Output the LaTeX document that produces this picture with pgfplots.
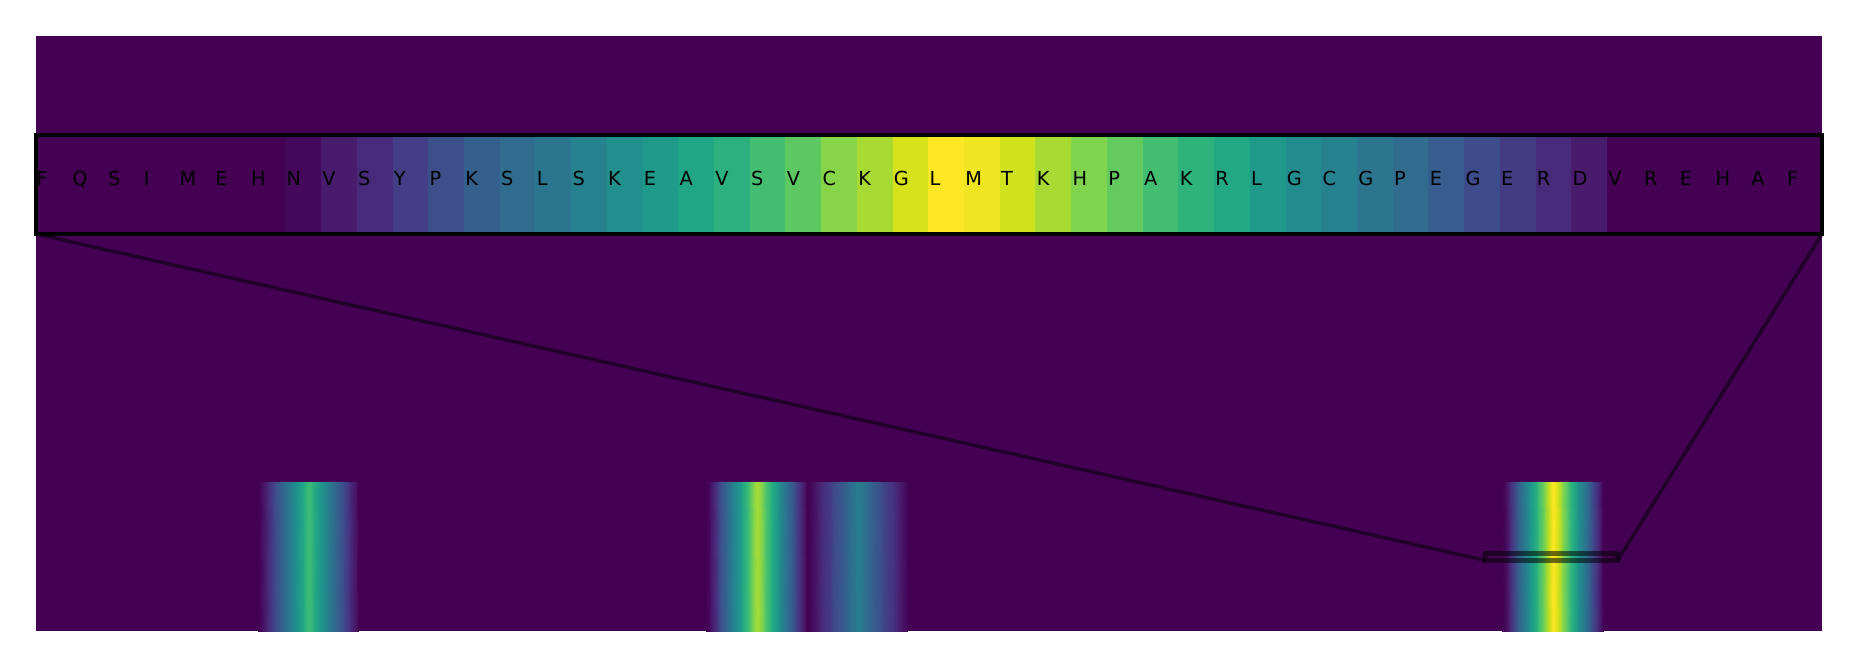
\documentclass[border=0pt]{standalone}
\usepackage{pgfplots}
\pgfplotsset{compat=1.18}
\usepackage{pgfplotstable}
\usepackage{fontspec}
\newfontfamily\dv{DejaVu Sans}
\usetikzlibrary{calc}

\definecolor{vbg}{RGB}{68,1,84}

% residue letters of the zoomed window
\pgfplotstableread{
x letter
0 F
1 Q
2 S
3 I
4 M
5 E
6 H
7 N
8 V
9 S
10 Y
11 P
12 K
13 S
14 L
15 S
16 K
17 E
18 A
19 V
20 S
21 V
22 C
23 K
24 G
25 L
26 M
27 T
28 K
29 H
30 P
31 A
32 K
33 R
34 L
35 G
36 C
37 G
38 P
39 E
40 G
41 E
42 R
43 D
44 V
45 R
46 E
47 H
48 A
49 F
}\letters

\begin{document}
\begin{tikzpicture}
\begin{axis}[
    name=main,
    at={(0,0)}, anchor=south west,
    scale only axis, width=17.86cm, height=5.95cm,
    xmin=0, xmax=673, ymin=0, ymax=1,
    axis line style={draw=none}, ticks=none,
    axis background/.style={fill=vbg},
    colormap/viridis, point meta min=0, point meta max=1,
]
% band 1
\addplot[surf, shader=interp, mesh/ordering=y varies, mesh/rows=2, mesh/cols=39, point meta=explicit] coordinates {
(83.5,0)[0] (83.5,0.25)[0]
(84.5,0)[0.01] (84.5,0.25)[0.01]
(85.5,0)[0.05] (85.5,0.25)[0.05]
(86.5,0)[0.08] (86.5,0.25)[0.08]
(87.5,0)[0.12] (87.5,0.25)[0.12]
(88.5,0)[0.16] (88.5,0.25)[0.16]
(89.5,0)[0.20] (89.5,0.25)[0.20]
(90.5,0)[0.24] (90.5,0.25)[0.24]
(91.5,0)[0.27] (91.5,0.25)[0.27]
(92.5,0)[0.30] (92.5,0.25)[0.30]
(93.5,0)[0.34] (93.5,0.25)[0.34]
(94.5,0)[0.37] (94.5,0.25)[0.37]
(95.5,0)[0.40] (95.5,0.25)[0.40]
(96.5,0)[0.44] (96.5,0.25)[0.44]
(97.5,0)[0.48] (97.5,0.25)[0.48]
(98.5,0)[0.51] (98.5,0.25)[0.51]
(99.5,0)[0.56] (99.5,0.25)[0.56]
(100.5,0)[0.59] (100.5,0.25)[0.59]
(101.5,0)[0.64] (101.5,0.25)[0.64]
(102.5,0)[0.68] (102.5,0.25)[0.68]
(103.5,0)[0.67] (103.5,0.25)[0.67]
(104.5,0)[0.63] (104.5,0.25)[0.63]
(105.5,0)[0.59] (105.5,0.25)[0.59]
(106.5,0)[0.55] (106.5,0.25)[0.55]
(107.5,0)[0.52] (107.5,0.25)[0.52]
(108.5,0)[0.48] (108.5,0.25)[0.48]
(109.5,0)[0.44] (109.5,0.25)[0.44]
(110.5,0)[0.41] (110.5,0.25)[0.41]
(111.5,0)[0.37] (111.5,0.25)[0.37]
(112.5,0)[0.33] (112.5,0.25)[0.33]
(113.5,0)[0.30] (113.5,0.25)[0.30]
(114.5,0)[0.27] (114.5,0.25)[0.27]
(115.5,0)[0.24] (115.5,0.25)[0.24]
(116.5,0)[0.20] (116.5,0.25)[0.20]
(117.5,0)[0.16] (117.5,0.25)[0.16]
(118.5,0)[0.12] (118.5,0.25)[0.12]
(119.5,0)[0.08] (119.5,0.25)[0.08]
(120.5,0)[0.05] (120.5,0.25)[0.05]
(121.5,0)[0] (121.5,0.25)[0]
};
% band 2
\addplot[surf, shader=interp, mesh/ordering=y varies, mesh/rows=2, mesh/cols=39, point meta=explicit] coordinates {
(252.5,0)[0] (252.5,0.25)[0]
(253.5,0)[0.02] (253.5,0.25)[0.02]
(254.5,0)[0.06] (254.5,0.25)[0.06]
(255.5,0)[0.10] (255.5,0.25)[0.10]
(256.5,0)[0.16] (256.5,0.25)[0.16]
(257.5,0)[0.21] (257.5,0.25)[0.21]
(258.5,0)[0.26] (258.5,0.25)[0.26]
(259.5,0)[0.30] (259.5,0.25)[0.30]
(260.5,0)[0.34] (260.5,0.25)[0.34]
(261.5,0)[0.38] (261.5,0.25)[0.38]
(262.5,0)[0.44] (262.5,0.25)[0.44]
(263.5,0)[0.47] (263.5,0.25)[0.47]
(264.5,0)[0.51] (264.5,0.25)[0.51]
(265.5,0)[0.56] (265.5,0.25)[0.56]
(266.5,0)[0.61] (266.5,0.25)[0.61]
(267.5,0)[0.65] (267.5,0.25)[0.65]
(268.5,0)[0.71] (268.5,0.25)[0.71]
(269.5,0)[0.76] (269.5,0.25)[0.76]
(270.5,0)[0.82] (270.5,0.25)[0.82]
(271.5,0)[0.87] (271.5,0.25)[0.87]
(272.5,0)[0.85] (272.5,0.25)[0.85]
(273.5,0)[0.81] (273.5,0.25)[0.81]
(274.5,0)[0.76] (274.5,0.25)[0.76]
(275.5,0)[0.70] (275.5,0.25)[0.70]
(276.5,0)[0.66] (276.5,0.25)[0.66]
(277.5,0)[0.61] (277.5,0.25)[0.61]
(278.5,0)[0.57] (278.5,0.25)[0.57]
(279.5,0)[0.52] (279.5,0.25)[0.52]
(280.5,0)[0.47] (280.5,0.25)[0.47]
(281.5,0)[0.42] (281.5,0.25)[0.42]
(282.5,0)[0.38] (282.5,0.25)[0.38]
(283.5,0)[0.34] (283.5,0.25)[0.34]
(284.5,0)[0.30] (284.5,0.25)[0.30]
(285.5,0)[0.25] (285.5,0.25)[0.25]
(286.5,0)[0.20] (286.5,0.25)[0.20]
(287.5,0)[0.15] (287.5,0.25)[0.15]
(288.5,0)[0.10] (288.5,0.25)[0.10]
(289.5,0)[0.06] (289.5,0.25)[0.06]
(290.5,0)[0] (290.5,0.25)[0]
};
% band 3
\addplot[surf, shader=interp, mesh/ordering=y varies, mesh/rows=2, mesh/cols=39, point meta=explicit] coordinates {
(290.5,0)[0] (290.5,0.25)[0]
(291.5,0)[0.01] (291.5,0.25)[0.01]
(292.5,0)[0.03] (292.5,0.25)[0.03]
(293.5,0)[0.05] (293.5,0.25)[0.05]
(294.5,0)[0.08] (294.5,0.25)[0.08]
(295.5,0)[0.10] (295.5,0.25)[0.10]
(296.5,0)[0.13] (296.5,0.25)[0.13]
(297.5,0)[0.15] (297.5,0.25)[0.15]
(298.5,0)[0.16] (298.5,0.25)[0.16]
(299.5,0)[0.18] (299.5,0.25)[0.18]
(300.5,0)[0.21] (300.5,0.25)[0.21]
(301.5,0)[0.23] (301.5,0.25)[0.23]
(302.5,0)[0.25] (302.5,0.25)[0.25]
(303.5,0)[0.27] (303.5,0.25)[0.27]
(304.5,0)[0.29] (304.5,0.25)[0.29]
(305.5,0)[0.32] (305.5,0.25)[0.32]
(306.5,0)[0.34] (306.5,0.25)[0.34]
(307.5,0)[0.37] (307.5,0.25)[0.37]
(308.5,0)[0.39] (308.5,0.25)[0.39]
(309.5,0)[0.42] (309.5,0.25)[0.42]
(310.5,0)[0.41] (310.5,0.25)[0.41]
(311.5,0)[0.39] (311.5,0.25)[0.39]
(312.5,0)[0.37] (312.5,0.25)[0.37]
(313.5,0)[0.34] (313.5,0.25)[0.34]
(314.5,0)[0.32] (314.5,0.25)[0.32]
(315.5,0)[0.29] (315.5,0.25)[0.29]
(316.5,0)[0.27] (316.5,0.25)[0.27]
(317.5,0)[0.25] (317.5,0.25)[0.25]
(318.5,0)[0.23] (318.5,0.25)[0.23]
(319.5,0)[0.20] (319.5,0.25)[0.20]
(320.5,0)[0.18] (320.5,0.25)[0.18]
(321.5,0)[0.16] (321.5,0.25)[0.16]
(322.5,0)[0.15] (322.5,0.25)[0.15]
(323.5,0)[0.12] (323.5,0.25)[0.12]
(324.5,0)[0.10] (324.5,0.25)[0.10]
(325.5,0)[0.07] (325.5,0.25)[0.07]
(326.5,0)[0.05] (326.5,0.25)[0.05]
(327.5,0)[0.03] (327.5,0.25)[0.03]
(328.5,0)[0] (328.5,0.25)[0]
};
% band 4 (the zoomed window)
\addplot[surf, shader=interp, mesh/ordering=y varies, mesh/rows=2, mesh/cols=39, point meta=explicit] coordinates {
(552.5,0)[0] (552.5,0.25)[0]
(553.5,0)[0.02] (553.5,0.25)[0.02]
(554.5,0)[0.07] (554.5,0.25)[0.07]
(555.5,0)[0.12] (555.5,0.25)[0.12]
(556.5,0)[0.18] (556.5,0.25)[0.18]
(557.5,0)[0.24] (557.5,0.25)[0.24]
(558.5,0)[0.30] (558.5,0.25)[0.30]
(559.5,0)[0.35] (559.5,0.25)[0.35]
(560.5,0)[0.39] (560.5,0.25)[0.39]
(561.5,0)[0.44] (561.5,0.25)[0.44]
(562.5,0)[0.50] (562.5,0.25)[0.50]
(563.5,0)[0.54] (563.5,0.25)[0.54]
(564.5,0)[0.59] (564.5,0.25)[0.59]
(565.5,0)[0.64] (565.5,0.25)[0.64]
(566.5,0)[0.70] (566.5,0.25)[0.70]
(567.5,0)[0.75] (567.5,0.25)[0.75]
(568.5,0)[0.82] (568.5,0.25)[0.82]
(569.5,0)[0.87] (569.5,0.25)[0.87]
(570.5,0)[0.94] (570.5,0.25)[0.94]
(571.5,0)[1.00] (571.5,0.25)[1.00]
(572.5,0)[0.98] (572.5,0.25)[0.98]
(573.5,0)[0.93] (573.5,0.25)[0.93]
(574.5,0)[0.87] (574.5,0.25)[0.87]
(575.5,0)[0.81] (575.5,0.25)[0.81]
(576.5,0)[0.76] (576.5,0.25)[0.76]
(577.5,0)[0.70] (577.5,0.25)[0.70]
(578.5,0)[0.65] (578.5,0.25)[0.65]
(579.5,0)[0.60] (579.5,0.25)[0.60]
(580.5,0)[0.54] (580.5,0.25)[0.54]
(581.5,0)[0.48] (581.5,0.25)[0.48]
(582.5,0)[0.44] (582.5,0.25)[0.44]
(583.5,0)[0.39] (583.5,0.25)[0.39]
(584.5,0)[0.35] (584.5,0.25)[0.35]
(585.5,0)[0.29] (585.5,0.25)[0.29]
(586.5,0)[0.23] (586.5,0.25)[0.23]
(587.5,0)[0.17] (587.5,0.25)[0.17]
(588.5,0)[0.12] (588.5,0.25)[0.12]
(589.5,0)[0.07] (589.5,0.25)[0.07]
(590.5,0)[0] (590.5,0.25)[0]
};
\draw[black, opacity=0.55, line width=0.047cm] (axis cs:546,0.1188) rectangle (axis cs:596,0.1306);
\coordinate (rbl) at (axis cs:546,0.1188);
\coordinate (rbr) at (axis cs:596,0.1188);
\end{axis}

\begin{axis}[
    name=inset,
    at={($(main.north west)+(0,-0.99cm)$)}, anchor=north west,
    scale only axis, width=17.86cm, height=0.99cm,
    xmin=0, xmax=50, ymin=0, ymax=1,
    ticks=none, axis on top,
    axis line style={black, line width=0.035cm},
    colormap/viridis, point meta min=0, point meta max=1,
]
\addplot[surf, shader=flat corner, mesh/ordering=y varies, mesh/rows=2, mesh/cols=51, point meta=explicit] coordinates {
(0,0)[0] (0,1)[0]
(1,0)[0] (1,1)[0]
(2,0)[0] (2,1)[0]
(3,0)[0] (3,1)[0]
(4,0)[0] (4,1)[0]
(5,0)[0] (5,1)[0]
(6,0)[0] (6,1)[0]
(7,0)[0.02] (7,1)[0.02]
(8,0)[0.07] (8,1)[0.07]
(9,0)[0.12] (9,1)[0.12]
(10,0)[0.18] (10,1)[0.18]
(11,0)[0.24] (11,1)[0.24]
(12,0)[0.30] (12,1)[0.30]
(13,0)[0.35] (13,1)[0.35]
(14,0)[0.39] (14,1)[0.39]
(15,0)[0.44] (15,1)[0.44]
(16,0)[0.50] (16,1)[0.50]
(17,0)[0.54] (17,1)[0.54]
(18,0)[0.59] (18,1)[0.59]
(19,0)[0.64] (19,1)[0.64]
(20,0)[0.70] (20,1)[0.70]
(21,0)[0.75] (21,1)[0.75]
(22,0)[0.82] (22,1)[0.82]
(23,0)[0.87] (23,1)[0.87]
(24,0)[0.94] (24,1)[0.94]
(25,0)[1.00] (25,1)[1.00]
(26,0)[0.98] (26,1)[0.98]
(27,0)[0.93] (27,1)[0.93]
(28,0)[0.87] (28,1)[0.87]
(29,0)[0.81] (29,1)[0.81]
(30,0)[0.76] (30,1)[0.76]
(31,0)[0.70] (31,1)[0.70]
(32,0)[0.65] (32,1)[0.65]
(33,0)[0.60] (33,1)[0.60]
(34,0)[0.54] (34,1)[0.54]
(35,0)[0.48] (35,1)[0.48]
(36,0)[0.44] (36,1)[0.44]
(37,0)[0.39] (37,1)[0.39]
(38,0)[0.35] (38,1)[0.35]
(39,0)[0.29] (39,1)[0.29]
(40,0)[0.23] (40,1)[0.23]
(41,0)[0.17] (41,1)[0.17]
(42,0)[0.12] (42,1)[0.12]
(43,0)[0.07] (43,1)[0.07]
(44,0)[0] (44,1)[0]
(45,0)[0] (45,1)[0]
(46,0)[0] (46,1)[0]
(47,0)[0] (47,1)[0]
(48,0)[0] (48,1)[0]
(49,0)[0] (49,1)[0]
(50,0)[0] (50,1)[0]
};
\addplot[only marks, mark=none, nodes near coords, point meta=explicit symbolic,
    every node near coord/.style={anchor=base west, inner sep=0pt, text=black, font=\dv\fontsize{5.5}{6}\selectfont}]
    table[x=x, y expr=0.49, meta=letter] {\letters};
\end{axis}

\draw[black, opacity=0.5, line width=0.035cm] (inset.south west) -- (rbl);
\draw[black, opacity=0.5, line width=0.035cm] (inset.south east) -- (rbr);

\pgfresetboundingbox
\path[use as bounding box] (-0.36,-0.36) rectangle (18.21,6.31);
\end{tikzpicture}
\end{document}
